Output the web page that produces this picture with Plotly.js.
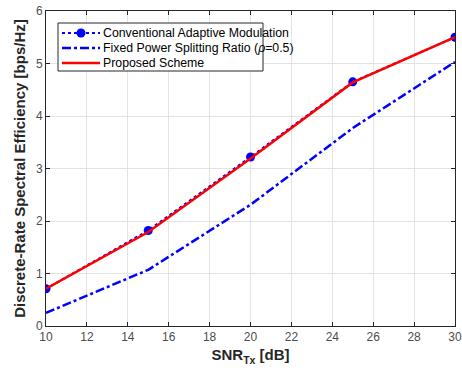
<!DOCTYPE html>
<html><head><meta charset="utf-8">
<script src="https://cdn.plot.ly/plotly-3.0.1.min.js"></script>
<style>html,body{margin:0;padding:0;background:#fff}#c{width:462px;height:375px}</style>
</head><body><div id="c"></div>
<script>
const snr = [10, 15, 20, 25, 30];
const conventional = [0.71, 1.82, 3.22, 4.65, 5.50];
const fixedRatio = [0.25, 1.07, 2.31, 3.77, 5.03];
const proposed = [0.71, 1.79, 3.19, 4.64, 5.50];
const xTicks = [10, 12, 14, 16, 18, 20, 22, 24, 26, 28, 30];
const yTicks = [0, 1, 2, 3, 4, 5, 6];
const seriesNames = ['Conventional Adaptive Modulation',
                     'Fixed Power Splitting Ratio (<i>ρ</i>=0.5)',
                     'Proposed Scheme'];

const FONT = 'Liberation Sans, Arial, sans-serif';
const styles = [
  {mode: 'lines+markers', line: {color: '#0000ff', dash: 'dot', width: 2}, marker: {color: '#0000ff', size: 9}},
  {mode: 'lines', line: {color: '#0000ff', dash: 'dashdot', width: 2.5}},
  {mode: 'lines', line: {color: '#ff0000', width: 2.5}}
];
const ys = [conventional, fixedRatio, proposed];
const traces = ys.map((y, i) => Object.assign({x: snr, y: y, name: seriesNames[i], showlegend: false}, styles[i]));

// Plot area geometry (pixels) used to place a compact MATLAB-style legend
const M = {l: 46, r: 7, t: 11, b: 49};
const PW = 462 - M.l - M.r, PH = 375 - M.t - M.b;
const px = v => (v - M.l) / PW;
const py = v => (375 - M.b - v) / PH;

const shapes = [{type: 'rect', xref: 'paper', yref: 'paper', x0: px(58), x1: px(263), y0: py(71), y1: py(23),
  line: {color: '#262626', width: 1}, fillcolor: '#ffffff', layer: 'above'}];
const annotations = [];
const rowY = [33, 48, 63];
rowY.forEach((ry, i) => {
  const st = styles[i];
  shapes.push({type: 'line', xref: 'paper', yref: 'paper', x0: px(62), x1: px(100), y0: py(ry), y1: py(ry),
    line: {color: st.line.color, dash: st.line.dash || 'solid', width: st.line.width}, layer: 'above'});
  if (st.marker) {
    shapes.push({type: 'circle', xref: 'paper', yref: 'paper', xsizemode: 'pixel', ysizemode: 'pixel',
      xanchor: px(81), yanchor: py(ry), x0: -4.5, x1: 4.5, y0: -4.5, y1: 4.5,
      line: {color: st.marker.color, width: 0}, fillcolor: st.marker.color, layer: 'above'});
  }
  annotations.push({xref: 'paper', yref: 'paper', x: px(101), y: py(ry), xanchor: 'left', yanchor: 'middle',
    text: seriesNames[i], showarrow: false, font: {family: FONT, size: 12.3, color: '#000'}});
});

const axisCommon = {
  showline: true, mirror: 'ticks', linecolor: '#262626', linewidth: 1,
  ticks: 'inside', ticklen: 4, tickcolor: '#262626',
  showgrid: true, gridcolor: '#e3e3e3', gridwidth: 1, zeroline: false,
  tickfont: {family: FONT, size: 12, color: '#4d4d4d'}
};
const layout = {
  width: 462, height: 375,
  margin: M,
  paper_bgcolor: '#fff', plot_bgcolor: '#fff',
  showlegend: false,
  shapes: shapes, annotations: annotations,
  xaxis: Object.assign({}, axisCommon, {range: [10, 30], tickvals: xTicks,
    title: {text: '<b>SNR<sub>Tx</sub> [dB]</b>', standoff: 6,
      font: {family: FONT, size: 15, color: '#262626'}}}),
  yaxis: Object.assign({}, axisCommon, {range: [0, 6], tickvals: yTicks,
    title: {text: '<b>Discrete-Rate Spectral Efficiency [bps/Hz]</b>', standoff: 6,
      font: {family: FONT, size: 15, color: '#262626'}}})
};
Plotly.newPlot('c', traces, layout, {displayModeBar: false, staticPlot: true});
</script></body></html>
